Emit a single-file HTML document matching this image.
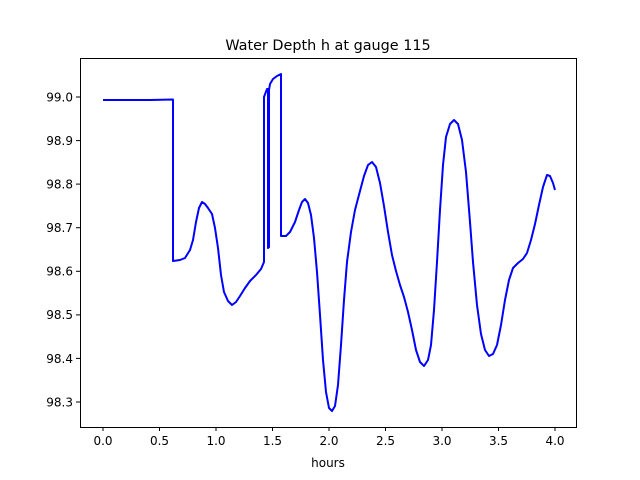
<!DOCTYPE html>
<html><head><style>body{margin:0;background:#fff}svg{display:block}text{font-family:"DejaVu Sans","Liberation Sans",sans-serif;font-size:12px;fill:#000}</style></head>
<body>
<svg width="640" height="480" xmlns="http://www.w3.org/2000/svg">
<rect width="640" height="480" fill="#fff"/>
<text x="328" y="50" text-anchor="middle" style="font-size:14.4px">Water Depth h at gauge 115</text>
<polyline fill="none" stroke="#0000ff" stroke-width="2" stroke-linejoin="round" points="103,100 150,100 173,99.5 173,261 180,260 185,258 190,250 193,240 196,222 199,208 202,202 205,204 208,208 212,214 215,228 218,248 221,275 224,292 228,301 232,305 236,302 240,296 245,288 250,281 256,275 261,269 264,262 264,97 267,89 268,89 268,248 269,247 269,90 270,84 273,79 277,76 281,74 281,236 286,236 290,232 295,222 299,210 302,202 305,199 308,203 311,215 314,238 317,272 320,315 323,360 326,392 329,408 332,411 335,406 338,385 341,345 344,300 347,262 351,232 355,210 360,191 364,176 368,165 372,162 376,167 380,183 384,206 388,232 392,255 396,271 400,285 404,297 408,312 412,330 416,350 420,362 424,366 428,360 431,345 434,310 437,262 440,210 443,165 446,137 450,124 454,120 458,124 462,140 466,172 470,222 473,262 477,305 481,334 485,350 489,356 493,354 497,345 501,325 505,300 509,280 513,268 518,263 523,259 527,253 531,240 535,224 539,205 543,187 547,175 550,176 553,183 555,190"/>
<rect x="80.5" y="58.5" width="496" height="369" fill="none" stroke="#000" stroke-width="1"/>
<g stroke="#000">
<line x1="103" y1="427" x2="103" y2="431"/><line x1="159.5" y1="427" x2="159.5" y2="431"/><line x1="216" y1="427" x2="216" y2="431"/><line x1="272.5" y1="427" x2="272.5" y2="431"/><line x1="329" y1="427" x2="329" y2="431"/><line x1="385.5" y1="427" x2="385.5" y2="431"/><line x1="442" y1="427" x2="442" y2="431"/><line x1="498.5" y1="427" x2="498.5" y2="431"/><line x1="555" y1="427" x2="555" y2="431"/>
<line x1="76" y1="97" x2="80" y2="97"/><line x1="76" y1="140.6" x2="80" y2="140.6"/><line x1="76" y1="184.1" x2="80" y2="184.1"/><line x1="76" y1="227.7" x2="80" y2="227.7"/><line x1="76" y1="271.3" x2="80" y2="271.3"/><line x1="76" y1="314.9" x2="80" y2="314.9"/><line x1="76" y1="358.4" x2="80" y2="358.4"/><line x1="76" y1="402" x2="80" y2="402"/>
</g>
<g text-anchor="middle">
<text x="103" y="445">0.0</text><text x="159.5" y="445">0.5</text><text x="216" y="445">1.0</text><text x="272.5" y="445">1.5</text><text x="329" y="445">2.0</text><text x="385.5" y="445">2.5</text><text x="442" y="445">3.0</text><text x="498.5" y="445">3.5</text><text x="555" y="445">4.0</text>
<text x="328" y="467">hours</text>
</g>
<g text-anchor="end">
<text x="73" y="101.5">99.0</text><text x="73" y="145">98.9</text><text x="73" y="188.5">98.8</text><text x="73" y="232">98.7</text><text x="73" y="275.5">98.6</text><text x="73" y="319">98.5</text><text x="73" y="363">98.4</text><text x="73" y="406.5">98.3</text>
</g>
</svg>
</body></html>
